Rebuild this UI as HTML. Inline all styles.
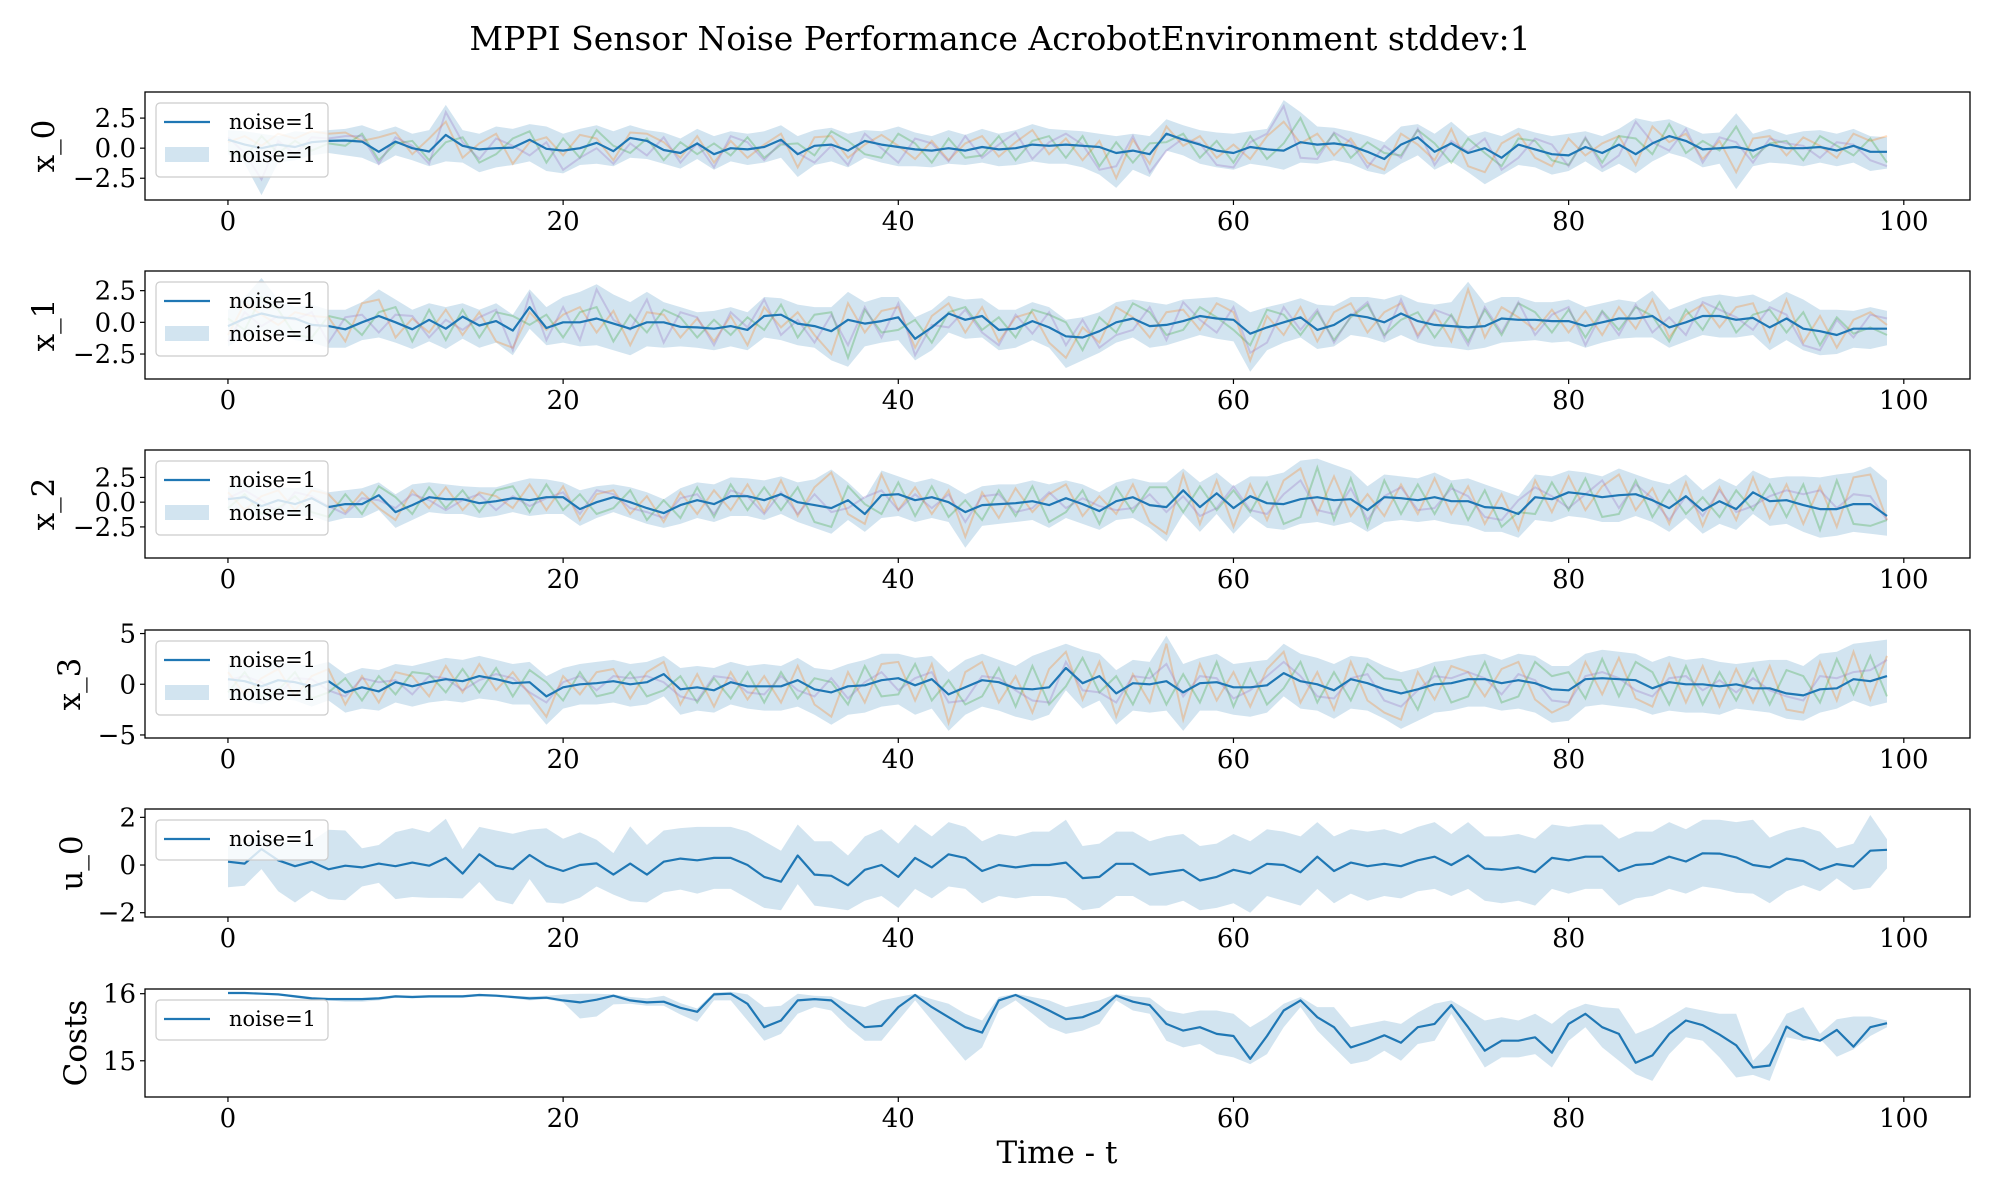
<!DOCTYPE html>
<html><head><meta charset="utf-8">
<style>
html,body{margin:0;padding:0;background:#fff;}
svg{display:block;font-family:"DejaVu Serif","Liberation Serif",serif;}
</style></head>
<body>
<svg id="fig" width="2000" height="1200" viewBox="0 0 2000 1200" xmlns="http://www.w3.org/2000/svg">
<rect width="2000" height="1200" fill="#fff"/>
<text x="1000" y="50" text-anchor="middle" font-size="33" fill="#000">MPPI Sensor Noise Performance AcrobotEnvironment stddev:1</text>
<text x="1057" y="1163" text-anchor="middle" font-size="31" fill="#000">Time - t</text>
</svg>
<script>
const xTicks=[0,20,40,60,80,100];
const panelNames=["x_0","x_1","x_2","x_3","u_0","Costs"];
const yTickVals0=[-2.5,0,2.5], yTickLabels0=["\u22122.5","0.0","2.5"];
const yTickVals3=[-5,0,5], yTickLabels3=["\u22125","0","5"];
const yTickValsU=[-2,0,2], yTickLabelsU=["\u22122","0","2"];
const yTickValsC=[15,16], yTickLabelsC=["15","16"];

const x0Mean=[0.7,0.3,0,0.3,0.1,0.5,0.6,0.64,0.55,-0.3,0.55,0,-0.28,1.1,0.2,-0.1,0,0.05,0.7,-0.05,-0.2,0,0.45,-0.25,0.85,0.6,-0.15,-0.4,0.4,-0.5,0,-0.1,0.1,0.7,-0.5,0.2,0.3,-0.2,0.6,0.3,0.1,-0.1,-0.2,0,-0.2,0.1,-0.1,0,0.3,0.2,0.3,0.2,0.1,-0.4,-0.2,-0.5,1.2,0.7,0.3,-0.2,-0.4,0.1,-0.1,-0.2,0.5,0.3,0.4,0.2,-0.3,-0.9,0.3,0.9,-0.3,0.4,-0.4,0,-0.8,0.3,-0.1,-0.5,-0.6,0.1,-0.4,0.3,-0.5,0.4,1.0,0.6,-0.1,0,0.1,-0.2,0.3,0,0,0.1,-0.2,0.2,-0.3,-0.3];
const x0Upper=[1.5,1.4,1.2,1.0,1.4,1.3,1.5,1.6,1.9,1.4,1.8,1.2,1.5,3.6,1.5,1.2,1.8,1.6,2.0,1.8,1.2,1.6,1.9,1.4,1.9,1.5,1.3,0.8,1.6,1.0,1.4,1.2,1.4,1.9,1.0,1.5,1.7,1.2,1.5,1.4,1.8,1.3,1.0,1.5,1.1,1.6,1.2,1.5,2.0,1.6,1.5,1.4,1.2,1.0,1.2,1.0,2.4,1.9,1.5,1.3,1.2,1.4,1.6,4.0,3.0,1.8,1.7,1.4,1.0,0.5,1.8,2.0,1.2,2.2,1.0,1.4,1.0,1.7,1.3,1.0,1.2,1.4,1.0,1.6,2.5,2.2,2.4,1.8,1.2,1.3,2.9,1.2,1.6,1.1,1.4,1.5,1.2,1.6,1.0,0.9];
const x0Lower=[-0.5,-1.3,-3.9,-1.2,-1.0,-0.6,-0.4,-0.6,-0.8,-1.4,-0.6,-1.0,-1.5,-1.1,-1.2,-2.0,-1.6,-1.4,-1.1,-1.9,-2.1,-1.4,-1.3,-1.5,-0.8,-0.9,-1.3,-1.7,-0.9,-1.8,-1.1,-1.4,-1.2,-0.8,-2.4,-1.4,-1.1,-1.6,-0.8,-1.2,-1.5,-1.5,-1.6,-1.3,-1.4,-1.2,-1.5,-1.4,-1.1,-1.3,-1.3,-1.6,-2.2,-3.3,-1.8,-2.4,-0.2,-0.6,-1.3,-1.6,-1.8,-1.3,-1.5,-1.8,-1.2,-1.3,-1.0,-1.3,-1.9,-2.2,-1.3,-0.6,-1.8,-1.1,-2.0,-3.0,-2.2,-1.4,-1.6,-2.2,-1.9,-1.1,-2.0,-1.3,-2.1,-1.1,-0.4,-0.8,-1.6,-1.3,-3.4,-1.5,-1.2,-1.3,-1.5,-1.2,-1.5,-1.2,-1.9,-1.7];
const x0RunA=[0.5,1.0,0.2,1.2,0.8,1.4,1.2,1.3,0.6,0.9,1.3,-0.5,0.8,2.2,-0.8,0.4,1.2,-1.3,0.5,0.9,-0.6,1.1,0.8,-1.0,1.3,1.2,0.5,-0.8,1.0,-1.2,0.6,-0.8,0.3,1.2,-1.6,0.9,1.0,-0.8,0.3,1.1,0.2,-0.9,0.6,-1.0,0.4,1.0,-0.7,0.5,1.5,-0.5,0.8,-1.0,0.6,-2.5,0.7,-1.3,1.8,0.2,1.0,-0.8,0.3,-0.9,1.0,2.2,0.4,1.2,-0.6,0.8,-1.2,-1.8,1.2,0.3,-1.0,1.6,-1.5,-2.0,0.4,1.2,-0.8,-1.5,0.8,-0.6,0.4,1.0,-1.4,1.8,0.5,1.2,-0.9,0.6,-2.0,0.8,1.0,-0.6,0.9,0.2,-0.8,1.2,0.6,1.0];
const x0RunB=[-0.2,-0.8,1.0,-0.4,0.6,-0.2,0.4,0.2,1.2,-1.0,0.4,0.6,-1.0,0.5,0.9,-1.2,-0.5,0.8,1.4,-1.2,0.8,-0.8,1.5,0.2,-0.4,0.8,-1.0,0.5,-0.5,0.4,-0.6,0.9,-0.8,0.3,0.4,-0.6,1.4,0.6,-0.5,-0.8,1.2,0.4,-1.2,0.8,-0.8,-0.6,1.0,-1.0,0.6,1.0,-0.8,1.0,-1.5,0.5,-1.2,0.4,0.5,1.2,-0.8,0.6,-1.2,1.0,-0.9,0.4,2.5,-0.5,1.2,-0.8,0.5,-0.4,-0.6,1.5,0.4,-1.2,0.8,-0.4,-1.5,0.8,0.6,-1.0,-1.4,0.8,-1.2,1.0,0.8,-0.5,2.0,-0.4,0.6,-0.2,1.8,-0.8,0.4,0.6,-1.0,1.0,0.2,-0.6,0.8,-1.2];
const x0RunC=[0.9,-0.4,-2.6,0.6,-0.5,0.9,0.8,1.0,1.0,-1.3,0.9,0.2,-1.3,3.0,0.5,-0.9,0.8,0.2,-0.6,0.5,-1.8,-0.8,0.0,-1.3,0.4,-0.6,0.9,-1.2,0.4,-1.6,1.0,0.5,-1.0,0.5,-0.4,-1.2,0.2,-1.4,1.2,0.0,-1.2,0.8,0.4,-1.1,1.0,-0.8,0.3,1.3,-0.9,0.5,1.2,0.3,-1.8,-1.5,1.0,-2.0,-0.2,0.8,0.4,-1.4,-1.6,0.5,1.2,3.5,-0.8,-0.9,1.3,0.5,-1.6,0.2,-0.8,1.6,-1.4,0.6,-0.3,0.8,-1.8,-0.8,0.8,0.3,-1.5,0.9,-1.6,-0.6,2.2,0.5,-0.2,1.6,-1.2,0.9,0.5,-1.2,0.8,0.4,0.2,-0.8,0.5,0.3,-1.0,-1.5];

const x1Mean=[-0.3,0.3,0.7,0.4,0.3,-0.2,-0.3,-0.55,0,0.5,0,-0.55,0.2,-0.5,0.45,-0.25,0.1,-0.65,1.2,-0.45,0,0,0.3,-0.1,-0.5,0,0,-0.35,-0.4,-0.5,-0.3,-0.6,0.5,0.6,-0.1,-0.3,-0.7,0.2,-0.1,0.1,0.4,-1.3,-0.4,0.7,0.2,0.5,-0.6,-0.5,0.1,-0.4,-1.1,-1.2,-0.7,0,0.3,-0.3,-0.2,0.1,0.5,0.3,0.2,-0.9,-0.4,0,0.4,-0.6,-0.2,0.6,0.4,0,0.7,0.1,-0.2,-0.3,-0.4,-0.3,0.3,0.2,0.2,0.1,0.1,-0.3,0,0.3,0.3,0.5,-0.4,0,0.5,0.5,0.2,0.35,-0.4,0.3,-0.5,-0.7,-1.0,-0.5,-0.5,-0.5];
const x1Upper=[1.0,2.0,3.5,1.8,1.2,1.4,1.0,1.0,1.6,2.6,1.8,1.0,1.5,1.2,1.5,1.0,1.5,0.6,2.6,1.2,2.0,2.4,3.0,2.2,1.6,2.4,1.6,1.2,0.8,0.9,1.2,0.8,2.0,1.9,1.4,1.2,1.2,2.4,1.6,2.0,2.0,0.4,1.0,2.1,1.8,1.9,1.0,1.0,1.6,1.2,0.2,0.4,0.8,1.6,1.8,1.6,1.4,1.8,1.9,2.0,1.7,0.8,1.2,1.5,1.9,1.4,1.3,2.0,2.0,1.8,2.2,1.6,1.4,1.6,3.2,1.5,2.0,2.0,1.6,1.6,1.8,1.2,1.5,1.8,1.6,2.5,1.0,1.5,2.0,2.2,2.0,2.2,1.6,2.4,1.8,1.0,1.0,0.9,1.2,0.9];
const x1Lower=[-1.9,-1.2,-0.7,-1.0,-1.4,-1.6,-2.0,-2.0,-1.4,-1.2,-1.6,-2.1,-1.5,-2.1,-1.3,-2.0,-1.6,-2.6,-0.5,-1.8,-1.6,-1.9,-1.8,-2.2,-2.6,-1.9,-2.0,-1.9,-2.0,-2.2,-1.9,-2.2,-1.2,-1.4,-1.8,-2.0,-3.0,-3.5,-1.9,-1.6,-1.4,-3.0,-2.2,-0.8,-1.3,-1.2,-2.2,-2.0,-1.4,-2.0,-3.6,-3.0,-2.4,-1.6,-1.2,-2.0,-1.8,-1.4,-1.0,-1.3,-1.5,-3.9,-2.2,-1.6,-1.2,-2.1,-1.9,-1.0,-1.2,-1.6,-1.0,-1.6,-1.9,-2.0,-2.2,-2.0,-1.6,-1.5,-1.4,-1.6,-1.5,-2.0,-1.6,-1.3,-1.2,-1.2,-2.0,-1.5,-1.0,-1.2,-1.2,-1.0,-2.2,-1.4,-2.2,-2.6,-2.5,-2.0,-2.1,-1.8];
const x1RunA=[-1.0,1.5,0.6,-0.2,0.8,0.5,0.4,-1.5,1.5,1.8,-1.2,0.3,-0.8,1.0,-1.0,0.8,-1.5,-2.0,0.8,-0.6,0.6,1.2,-0.8,0.9,-1.8,0.8,0.6,-1.2,0.3,-1.5,0.5,-1.8,1.2,-0.4,0.8,-1.0,-2.5,1.5,-0.8,0.9,1.2,-2.0,0.5,1.5,-0.8,1.2,-1.5,0.4,0.8,-1.6,-2.8,-0.4,-1.6,1.2,0.4,-1.2,0.8,1.0,-0.6,1.5,0.8,-3.0,0.5,-1.0,1.2,-1.5,0.8,1.5,-0.8,0.8,1.5,-1.0,0.8,-1.5,2.6,-1.2,1.2,0.4,-0.6,1.0,-0.8,0.9,-1.0,1.2,-0.5,1.8,-1.2,0.6,1.4,-0.4,1.2,1.5,-1.5,1.8,-1.6,0.5,-2.0,0.2,0.8,-0.2];
const x1RunB=[0.3,-0.6,2.0,1.0,-1.0,-1.2,0.5,0.2,-1.0,0.8,1.2,-1.5,1.0,-1.4,1.0,-1.2,0.8,0.5,-0.2,0.6,-1.2,0.8,1.2,-1.5,0.6,-0.8,1.0,0.4,-1.2,0.2,-1.0,0.4,-0.6,1.4,-1.2,0.6,0.8,-2.8,1.0,-0.8,-0.6,0.2,-1.6,0.8,1.2,-0.6,0.4,-1.2,1.0,0.6,0.0,-2.2,0.4,-0.8,1.5,0.8,-1.0,-0.6,1.2,0.4,-0.6,-1.8,1.0,0.6,-1.0,0.8,-1.4,0.4,1.4,-1.0,0.2,0.8,-1.2,0.6,-1.5,1.0,-1.0,1.5,0.8,-0.8,1.0,-1.2,0.9,-0.6,1.2,0.5,-1.5,1.0,-0.6,1.6,-0.8,0.6,1.0,-0.8,0.8,-1.8,0.4,-0.9,-0.4,-1.0];
const x1RunC=[-1.5,0.8,-0.3,0.5,0.2,0.8,-1.6,0.4,0.6,-0.8,0.6,0.5,-1.2,0.2,-0.6,0.4,1.0,-2.2,2.2,-1.4,1.2,-1.4,2.6,0.2,-0.6,1.8,-1.6,0.8,0.4,-1.8,0.8,-0.4,1.8,-1.0,0.2,-1.6,0.6,-1.8,1.2,-1.2,1.5,-2.6,-0.2,-0.4,1.0,-0.8,-1.8,0.6,-0.9,0.8,-1.8,0.2,-2.0,-1.0,-0.6,1.2,-1.4,1.6,0.2,-0.8,1.2,-2.4,-1.6,1.2,-0.6,1.0,-1.6,0.5,1.6,-1.2,1.8,-1.2,1.0,0.5,-1.8,1.2,-0.8,1.6,-1.0,0.6,1.2,-1.8,0.8,-1.0,1.4,-0.8,0.4,-1.0,1.6,1.0,0.4,-0.6,1.2,0.6,-1.8,-2.2,0.2,-1.2,0.6,0.3];

const x2Mean=[0.3,0.5,-0.4,0.2,-0.2,0.4,-0.5,-0.2,-0.2,0.7,-1.0,-0.3,0.5,0.3,0.3,-0.1,0.1,0.4,0.2,0.5,0.5,-0.7,0,0.5,0,-0.6,-1.1,-0.3,0.2,-0.2,0.6,0.6,0.2,0.8,0,-0.3,-0.6,0.2,-1.2,0.7,0.8,0.2,0.5,0,-1.0,-0.3,-0.2,-0.1,0.1,-0.3,0.4,-0.2,-0.9,0.1,0.5,-0.3,-0.5,1.2,-0.5,0.9,-0.6,0.6,-0.1,-0.2,0.3,0.5,0.2,0.3,-0.8,0.5,0.4,0.2,0.5,0.1,0.1,-0.5,-0.6,-1.2,0.5,0.3,1.0,0.8,0.5,0.7,0.8,0.2,-0.6,0.6,-0.85,0.1,-0.7,1.0,0.1,0.2,-0.3,-0.7,-0.7,-0.2,-0.2,-1.4];
const x2Upper=[1.5,2.0,1.2,1.5,1.4,1.6,1.0,1.2,1.4,2.0,0.8,1.8,2.0,1.8,1.6,1.5,1.5,2.0,2.4,2.3,2.0,1.2,1.6,1.8,1.5,1.0,0.3,1.4,2.0,1.8,2.5,2.4,2.2,2.6,2.0,2.3,3.3,2.0,0.4,3.2,2.6,2.0,2.4,1.8,0.8,1.6,1.8,1.8,2.2,1.8,2.2,1.8,1.0,2.0,2.4,2.0,2.0,3.4,2.0,3.0,1.6,2.6,2.6,3.0,4.2,4.4,3.8,3.2,1.6,2.8,2.6,2.4,3.0,2.2,2.4,1.8,1.2,0.6,2.8,2.6,3.2,3.0,2.6,3.4,2.8,2.2,1.8,2.8,1.2,2.4,1.6,3.2,2.4,2.6,2.6,2.5,2.8,3.0,3.6,2.2];
const x2Lower=[-0.8,-1.0,-1.6,-1.2,-1.4,-1.4,-2.0,-1.6,-1.6,-0.8,-2.6,-1.8,-1.0,-1.2,-1.2,-1.6,-1.4,-1.0,-1.4,-1.2,-1.2,-2.4,-1.6,-1.0,-1.6,-2.2,-2.6,-2.2,-1.6,-2.0,-1.4,-1.4,-1.8,-1.2,-2.0,-2.6,-3.2,-1.8,-3.0,-1.6,-1.4,-2.0,-1.6,-2.0,-4.6,-2.4,-2.2,-2.0,-1.8,-2.6,-1.6,-2.2,-2.8,-1.8,-1.6,-2.6,-4.0,-1.2,-3.0,-1.2,-3.2,-1.4,-2.6,-2.8,-2.2,-2.0,-2.4,-2.0,-3.0,-2.0,-1.8,-2.0,-1.8,-2.2,-2.4,-3.0,-3.0,-3.6,-1.8,-2.0,-1.4,-1.6,-2.0,-2.0,-1.4,-2.0,-3.0,-1.6,-3.2,-2.2,-2.8,-1.2,-2.4,-2.2,-3.0,-3.6,-3.4,-3.0,-3.2,-3.4];
const x2RunA=[1.0,-0.8,0.6,1.2,-0.8,1.2,0.8,-1.0,1.0,-0.6,-1.8,1.2,-0.6,1.5,-0.8,1.0,0.6,-0.6,1.8,-0.8,1.6,-1.8,0.8,1.2,-1.2,0.6,-2.0,1.0,-1.2,1.2,-0.8,1.8,-1.0,2.2,-1.4,1.5,3.0,-1.2,-2.2,2.8,-0.8,1.5,-1.2,1.2,-3.5,1.0,-1.6,1.4,-1.0,0.8,1.8,-1.4,0.6,-1.2,1.8,-2.0,-3.2,2.8,-2.2,2.2,-2.5,1.8,-1.8,2.2,3.4,-1.2,2.6,-1.4,0.8,-1.4,1.8,-1.2,2.4,-1.2,1.6,-2.2,0.8,-2.8,2.2,-1.0,2.6,-0.8,1.6,2.8,-0.8,1.4,-2.2,2.0,-2.4,1.5,-1.8,2.5,-1.6,1.8,-2.2,1.6,-2.5,2.5,2.8,-1.8];
const x2RunB=[-0.6,0.8,-1.2,-0.6,0.6,-1.0,-1.5,0.8,-1.2,1.6,0.5,-1.2,1.5,-0.6,1.2,-1.0,1.2,1.6,-1.0,1.8,-0.8,0.8,-1.2,-0.6,1.2,-1.8,0.2,-1.6,1.5,-1.5,1.8,-0.8,1.5,-0.8,1.5,-2.0,-2.5,1.6,-0.2,-1.2,2.0,-1.4,1.6,-1.5,0.2,-1.8,1.2,-1.4,1.6,-2.0,-1.0,1.2,-2.2,1.5,-1.0,1.5,1.5,-1.0,1.6,-0.8,1.2,-1.0,2.0,-2.2,-1.5,3.5,-1.8,2.4,-2.5,2.2,-1.2,1.8,-1.2,1.8,-1.8,1.2,-2.5,-1.0,-1.2,2.0,-0.8,2.4,-1.5,-1.2,2.2,-1.5,1.2,-1.2,0.5,-1.5,1.2,-0.8,1.8,-1.5,1.8,-2.8,2.2,-2.2,-2.4,-1.8];
const x2RunC=[0.4,1.2,0.2,-1.0,1.0,0.6,-0.4,-1.2,0.4,0.2,-0.6,0.8,0.2,-0.8,0.2,0.8,-0.8,0.6,-0.4,0.4,1.0,-1.2,1.2,0.8,-0.6,-1.0,-1.6,0.4,0.8,-1.2,1.2,0.6,-1.2,1.0,-1.2,0.8,-1.0,-0.6,0.5,1.2,-0.8,0.8,-0.6,0.8,-2.0,0.6,0.8,-1.0,-0.6,1.0,-0.6,0.4,-0.4,-0.8,-0.6,0.8,-1.0,0.6,-1.4,-0.6,1.6,-0.8,-1.2,0.8,2.2,-0.8,-1.2,1.4,-1.8,0.6,1.5,-0.8,-0.6,1.4,0.6,-1.5,-1.8,0.2,1.5,0.6,-0.6,0.8,2.2,-0.6,1.8,0.4,-1.8,0.6,-1.4,1.2,-1.0,-0.4,0.6,1.2,0.8,1.2,-0.6,0.8,0.6,-1.8];

const x3Mean=[0.5,0.3,-0.2,0.4,0.2,-0.2,0.3,-0.8,-0.3,-0.7,0.2,-0.2,0.2,0.5,0.3,0.8,0.5,0.1,0.2,-1.2,-0.3,0,0.1,0.3,0,0.2,1.0,-0.5,-0.3,-0.6,0.2,-0.2,-0.2,-0.2,0.4,-0.5,-0.8,-0.2,-0.1,0.4,0.6,-0.1,0.5,-1.0,-0.3,0.4,0.2,-0.4,-0.5,-0.3,1.6,0.1,0.8,-0.9,0.1,0,0.3,-0.8,0.1,0.2,-0.3,-0.3,-0.1,1.1,0.3,0,-0.6,0.5,0.1,-0.5,-0.9,-0.5,0,0.1,0.5,0.5,0.1,0.4,0.1,-0.5,-0.6,0.5,0.6,0.5,0.4,-0.4,0.2,0,0,-0.2,0,-0.4,-0.4,-0.9,-1.1,-0.5,-0.4,0.5,0.3,0.8];
const x3Upper=[2.0,1.8,1.6,2.2,2.0,1.8,2.2,1.0,1.6,1.4,2.0,1.8,2.2,2.6,2.4,2.8,2.4,2.0,2.2,0.8,1.6,2.0,2.2,2.4,2.0,2.2,2.8,1.6,1.8,1.6,2.2,1.8,2.0,1.8,2.6,1.6,1.4,2.0,2.4,3.0,3.0,2.6,2.8,1.2,2.4,3.0,2.4,1.8,2.8,3.4,4.0,3.4,3.0,1.4,2.4,2.2,4.8,2.0,2.6,3.0,2.0,2.2,2.4,4.0,3.0,2.6,2.0,2.8,2.6,1.8,1.2,1.6,2.2,2.4,2.8,3.0,2.4,3.0,2.8,1.8,1.8,3.0,3.4,3.2,3.0,2.2,2.8,2.4,2.6,2.2,2.0,2.2,2.4,2.4,1.8,3.0,3.2,4.0,4.2,4.4];
const x3Lower=[-1.4,-1.6,-2.0,-1.4,-1.6,-2.2,-1.6,-2.8,-2.4,-2.6,-1.8,-2.2,-1.8,-1.6,-1.8,-1.4,-1.6,-2.0,-2.0,-4.0,-2.4,-2.0,-2.0,-1.8,-2.2,-2.0,-1.2,-3.0,-2.6,-2.8,-2.0,-2.4,-2.6,-2.6,-2.2,-3.0,-4.0,-3.0,-2.8,-2.2,-2.0,-3.0,-2.4,-4.6,-3.0,-2.2,-2.6,-3.2,-3.6,-3.0,-0.6,-2.4,-1.6,-4.0,-2.6,-2.8,-2.6,-4.6,-2.6,-2.6,-3.0,-3.2,-2.8,-1.2,-2.4,-2.6,-3.4,-2.4,-2.6,-3.4,-4.4,-3.6,-2.8,-2.6,-2.2,-2.2,-2.6,-2.4,-2.8,-3.8,-3.6,-2.2,-2.0,-2.2,-2.4,-3.0,-2.6,-2.8,-2.8,-3.0,-2.4,-2.6,-2.8,-3.4,-3.6,-2.8,-2.4,-1.6,-2.2,-1.8];
const x3RunA=[1.2,-1.0,0.6,1.5,-1.2,0.8,1.5,-2.0,0.8,-1.8,1.2,0.8,-1.2,1.8,-0.8,2.0,-0.6,1.2,-1.0,-3.2,0.8,-1.0,1.2,1.5,-1.4,1.2,2.2,-2.0,1.0,-2.2,1.2,-1.5,0.8,-1.8,1.8,-2.0,-3.2,1.2,-1.8,2.0,2.2,-1.6,2.0,-3.8,1.2,2.2,-1.8,0.8,-2.8,1.5,3.2,-1.5,2.2,-3.2,1.0,-1.8,4.0,-3.5,2.0,-1.6,1.2,-2.2,1.5,3.2,-1.8,1.2,-2.5,2.2,-1.6,-2.8,-3.5,1.2,-1.5,1.8,1.2,-1.2,1.5,2.2,-1.5,-2.8,-2.0,2.2,-1.0,2.6,-1.4,-2.2,2.0,-1.8,1.8,-2.2,1.5,-1.8,1.8,-2.5,-2.8,2.2,-1.6,3.2,-1.5,2.8];
const x3RunB=[-0.8,1.2,-1.2,-0.6,1.2,-1.4,-0.8,0.6,-1.6,0.8,-1.0,1.2,1.0,-0.8,1.5,-0.8,1.6,-1.2,1.4,0.2,-1.6,1.2,-1.2,-0.8,1.2,-1.2,-0.6,0.8,-1.8,0.6,-1.4,1.2,-1.8,1.2,-1.4,0.6,0.2,-2.0,1.8,-1.2,-1.0,2.0,-1.6,0.4,-2.0,-1.2,1.6,-2.2,1.8,-2.0,-0.2,2.6,-0.8,0.8,-2.0,1.5,-2.0,1.0,-1.8,2.2,-2.2,1.5,-2.0,-0.4,2.2,-1.8,1.2,-1.6,2.0,0.6,0.4,-2.5,1.6,-1.8,-1.2,2.2,-1.8,-1.2,2.2,0.8,1.2,-1.4,2.5,-1.2,2.2,1.2,-2.0,1.8,-2.0,1.2,-1.6,1.5,-2.0,1.4,0.8,-1.8,2.5,-1.0,2.8,-1.2];
const x3RunC=[0.4,0.8,0.2,-1.0,0.6,0.5,-0.6,-1.2,0.6,0.2,0.4,-1.0,0.8,0.6,-0.6,0.4,1.0,0.6,-0.8,-1.8,0.2,0.8,-0.6,0.8,0.6,0.8,0.2,-1.2,-1.6,0.8,0.6,-0.8,-1.0,0.8,-0.6,-1.2,0.6,-1.4,0.2,1.2,-0.6,0.6,1.2,-1.8,-1.6,0.8,0.6,-0.6,-1.6,-1.8,2.2,-0.6,-0.8,-1.8,0.8,0.6,2.0,-1.2,0.8,0.6,-1.4,-0.6,0.8,2.2,0.8,-1.2,-1.4,0.6,1.0,-1.6,-2.2,-0.6,0.8,0.6,1.2,0.6,-1.0,1.0,0.4,-1.6,-1.8,0.8,1.2,0.6,-0.6,-1.2,0.6,0.8,-0.6,0.4,-0.8,0.6,-0.6,-1.2,-1.6,0.8,0.6,1.2,1.4,2.4];

const u0Mean=[0.14,0.06,0.67,0.2,-0.05,0.14,-0.18,-0.03,-0.1,0.06,-0.05,0.1,-0.03,0.3,-0.36,0.45,-0.03,-0.17,0.42,-0.03,-0.25,0,0.07,-0.4,0.06,-0.4,0.14,0.27,0.2,0.3,0.3,0,-0.5,-0.7,0.4,-0.4,-0.45,-0.85,-0.2,0,-0.5,0.3,-0.1,0.45,0.3,-0.25,0,-0.1,0,0,0.1,-0.55,-0.5,0.05,0.05,-0.4,-0.3,-0.2,-0.65,-0.5,-0.2,-0.35,0.05,0,-0.3,0.35,-0.25,0.1,-0.05,0.05,-0.05,0.2,0.35,0,0.4,-0.15,-0.2,-0.1,-0.3,0.3,0.2,0.35,0.35,-0.25,0,0.05,0.35,0.15,0.49,0.48,0.32,0,-0.1,0.27,0.17,-0.2,0.04,-0.06,0.6,0.64];
const u0Upper=[0.8,0.9,1.2,1.0,0.9,1.0,1.48,1.45,0.7,0.84,1.38,1.55,1.37,1.94,0.67,1.6,1.45,1.31,1.48,1.54,1.1,1.37,1.06,0.5,1.62,0.84,1.45,1.55,1.6,1.6,1.6,1.4,1.0,0.6,1.7,1.0,1.0,0.4,1.2,1.5,0.9,1.7,1.2,1.8,1.6,1.0,1.3,1.2,1.4,1.4,1.9,0.8,0.9,1.4,1.4,1.0,1.2,1.3,0.8,0.9,1.3,1.0,1.5,1.4,1.2,1.8,1.2,1.5,1.4,1.5,1.3,1.6,1.8,1.3,1.8,1.2,1.2,1.3,1.1,1.7,1.6,1.7,1.7,1.1,1.4,1.4,1.8,1.5,1.9,1.9,1.8,1.9,1.15,1.43,1.6,1.4,0.7,0.9,2.1,1.08];
const u0Lower=[-0.93,-0.87,-0.17,-1.1,-1.57,-1.08,-1.43,-1.48,-0.9,-0.75,-1.43,-1.34,-1.38,-1.38,-1.4,-0.71,-1.48,-1.65,-0.59,-1.57,-1.62,-1.37,-0.9,-1.24,-1.52,-1.57,-1.15,-1.03,-1.2,-1.0,-1.0,-1.4,-1.8,-1.9,-0.8,-1.7,-1.8,-1.9,-1.5,-1.3,-1.8,-1.0,-1.4,-0.9,-1.0,-1.6,-1.3,-1.4,-1.3,-1.3,-1.4,-1.9,-1.8,-1.3,-1.3,-1.7,-1.7,-1.5,-1.9,-1.8,-1.6,-2.0,-1.3,-1.5,-1.7,-1.0,-1.6,-1.2,-1.5,-1.3,-1.4,-1.1,-1.0,-1.3,-1.0,-1.5,-1.6,-1.5,-1.7,-1.0,-1.2,-1.0,-1.0,-1.7,-1.4,-1.3,-1.0,-1.2,-0.9,-1.0,-1.16,-1.2,-1.6,-1.1,-0.84,-1.1,-0.56,-1.05,-0.95,-0.14];

const costMean=[16.01,16.01,16,15.99,15.96,15.93,15.92,15.92,15.92,15.93,15.96,15.95,15.96,15.96,15.96,15.98,15.97,15.95,15.93,15.94,15.9,15.87,15.91,15.97,15.9,15.87,15.88,15.79,15.73,15.99,16.0,15.85,15.5,15.6,15.9,15.92,15.9,15.7,15.5,15.52,15.8,15.98,15.8,15.65,15.5,15.42,15.9,15.98,15.87,15.75,15.62,15.65,15.75,15.97,15.88,15.83,15.55,15.45,15.5,15.4,15.37,15.03,15.37,15.75,15.9,15.65,15.5,15.2,15.28,15.38,15.27,15.5,15.55,15.83,15.5,15.15,15.3,15.3,15.35,15.12,15.55,15.7,15.5,15.4,14.97,15.08,15.4,15.6,15.53,15.39,15.23,14.9,14.93,15.51,15.36,15.3,15.46,15.21,15.5,15.56];
const costUpper=[16.02,16.02,16.01,16.0,15.98,15.95,15.94,15.94,15.94,15.95,15.98,15.97,15.98,15.98,15.98,16.0,15.99,15.97,15.96,15.97,15.99,16.0,16.0,15.99,15.95,15.93,15.97,15.86,15.78,16.02,16.03,15.99,15.8,15.82,16.0,15.97,15.96,15.85,15.8,15.9,15.95,16.0,15.92,15.85,15.7,15.6,15.95,16.0,15.95,15.9,15.8,15.85,15.9,16.0,15.96,15.94,15.75,15.7,15.75,15.75,15.7,15.5,15.65,15.85,15.95,15.8,15.8,15.5,15.55,15.6,15.55,15.72,15.85,15.9,15.75,15.6,15.65,15.6,15.7,15.55,15.75,15.85,15.8,15.78,15.4,15.5,15.65,15.8,15.75,15.7,15.7,15.0,15.27,15.7,15.8,15.4,15.62,15.66,15.66,15.6];
const costLower=[16.0,16.0,15.99,15.98,15.94,15.91,15.9,15.88,15.88,15.9,15.94,15.93,15.94,15.94,15.94,15.96,15.95,15.93,15.9,15.92,15.87,15.63,15.66,15.84,15.85,15.82,15.82,15.69,15.58,15.9,15.9,15.6,15.3,15.4,15.7,15.8,15.75,15.5,15.3,15.3,15.6,15.9,15.6,15.3,15.0,15.2,15.75,15.9,15.7,15.5,15.4,15.45,15.55,15.9,15.75,15.7,15.3,15.2,15.25,15.1,15.05,14.95,15.1,15.5,15.8,15.45,15.2,14.95,15.0,15.15,15.0,15.25,15.3,15.7,15.3,14.9,15.05,15.05,15.1,14.9,15.3,15.5,15.2,15.0,14.8,14.7,15.1,15.35,15.3,15.05,14.75,14.79,14.7,15.35,15.3,15.33,15.06,15.17,15.37,15.5];

const NS='http://www.w3.org/2000/svg';
const svg=document.getElementById('fig');
const L=145, R=1970, XMIN=-4.95, XMAX=103.95, H=108;
const tops=[92,271,450,630,809,989];
const ylims=[[-4.31,4.67],[-4.47,4.05],[-5.64,5.27],[-5.3,5.35],[-2.18,2.35],[14.46,16.07]];
const ylabelX=[44,44,44,70,72,76];
const BLUE='#1f77b4';
function xs(t){return L+(t-XMIN)/(XMAX-XMIN)*(R-L);}
function mk(tag,attrs,parent){const e=document.createElementNS(NS,tag);for(const k in attrs)e.setAttribute(k,attrs[k]);(parent||svg).appendChild(e);return e;}

const panels=[
 {mean:x0Mean,up:x0Upper,lo:x0Lower,runs:[x0RunA,x0RunB,x0RunC],yt:yTickVals0,yl:yTickLabels0,two:true},
 {mean:x1Mean,up:x1Upper,lo:x1Lower,runs:[x1RunA,x1RunB,x1RunC],yt:yTickVals0,yl:yTickLabels0,two:true},
 {mean:x2Mean,up:x2Upper,lo:x2Lower,runs:[x2RunA,x2RunB,x2RunC],yt:yTickVals0,yl:yTickLabels0,two:true},
 {mean:x3Mean,up:x3Upper,lo:x3Lower,runs:[x3RunA,x3RunB,x3RunC],yt:yTickVals3,yl:yTickLabels3,two:true},
 {mean:u0Mean,up:u0Upper,lo:u0Lower,runs:[],yt:yTickValsU,yl:yTickLabelsU,two:false},
 {mean:costMean,up:costUpper,lo:costLower,runs:[],yt:yTickValsC,yl:yTickLabelsC,two:false}
];
const runColors=['#ff7f0e','#2ca02c','#9467bd'];

panels.forEach((p,i)=>{
  const top=tops[i], bot=top+H, [y0,y1]=ylims[i];
  const ys=v=>bot-(v-y0)/(y1-y0)*H;
  const name=panelNames[i].toLowerCase().replace('_','');
  const g=mk('g',{});
  
  
  const cid='clip'+i;
  const cp=mk('clipPath',{id:cid},g); mk('rect',{x:L,y:top,width:R-L,height:H},cp);
  const plot=mk('g',{'clip-path':'url(#'+cid+')'},g);
  let d='';
  p.up.forEach((v,t)=>{d+=(t?'L':'M')+xs(t).toFixed(1)+','+ys(v).toFixed(1);});
  for(let t=p.lo.length-1;t>=0;t--){d+='L'+xs(t).toFixed(1)+','+ys(p.lo[t]).toFixed(1);}
  const band=mk('path',{d:d+'Z',fill:BLUE,'fill-opacity':0.2,stroke:'none'},plot);
  
  
  p.runs.forEach((r,k)=>{
    const pts=r.map((v,t)=>xs(t).toFixed(1)+','+ys(v).toFixed(1)).join(' ');
    const pl=mk('polyline',{points:pts,fill:'none',stroke:runColors[k],'stroke-opacity':0.28,'stroke-width':2},plot);
    
    
  });
  const pts=p.mean.map((v,t)=>xs(t).toFixed(1)+','+ys(v).toFixed(1)).join(' ');
  const ml=mk('polyline',{points:pts,fill:'none',stroke:BLUE,'stroke-width':2.2,'stroke-linejoin':'round'},plot);
  
  
  const fr=mk('rect',{x:L,y:top,width:R-L,height:H,fill:'none',stroke:'#000','stroke-width':1.3},g);
  
  
  xTicks.forEach(t=>{
    const x=xs(t);
    mk('line',{x1:x,x2:x,y1:bot,y2:bot+5,stroke:'#000','stroke-width':1.2},g);
    const tx=mk('text',{x:x,y:bot+30,'text-anchor':'middle','font-size':26,fill:'#000'},g);
    tx.textContent=t;
    
    
  });
  p.yt.forEach((v,k)=>{
    const y=ys(v);
    mk('line',{x1:L-5,x2:L,y1:y,y2:y,stroke:'#000','stroke-width':1.2},g);
    const tx=mk('text',{x:L-9,y:y+9,'text-anchor':'end','font-size':26,fill:'#000'},g);
    tx.textContent=p.yl[k];
    
    
  });
  const yl=mk('text',{x:ylabelX[i],y:top+H/2,'text-anchor':'middle','dominant-baseline':'central','font-size':31,fill:'#000',transform:'rotate(-90 '+ylabelX[i]+' '+(top+H/2)+')'},g);
  yl.textContent=panelNames[i];
  
  
  const lg=mk('g',{},g);
  
  
  const lh=p.two?74:40;
  mk('rect',{x:156,y:top+11,width:172,height:lh,rx:4,fill:'#fff','fill-opacity':0.8,stroke:'#ccc','stroke-width':1.2},lg);
  mk('line',{x1:164,x2:210,y1:top+30,y2:top+30,stroke:BLUE,'stroke-width':2.2},lg);
  const t1=mk('text',{x:229,y:top+37,'font-size':21,fill:'#000'},lg);
  t1.textContent='noise=1';
  
  
  if(p.two){
    mk('rect',{x:165,y:top+55,width:44,height:15,fill:BLUE,'fill-opacity':0.2},lg);
    const t2=mk('text',{x:229,y:top+70,'font-size':21,fill:'#000'},lg);
    t2.textContent='noise=1';
    
    
  }
});
</script>
</body></html>
